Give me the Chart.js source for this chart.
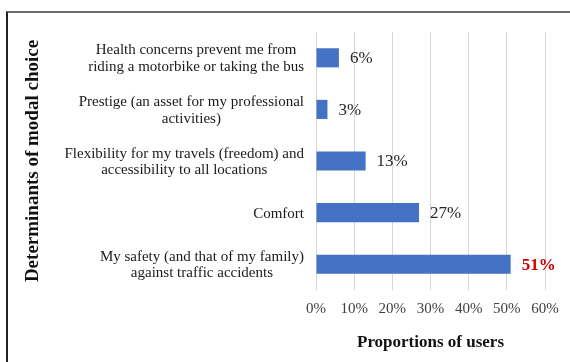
<!DOCTYPE html>
<html>
<head>
<meta charset="utf-8">
<script src="https://cdn.jsdelivr.net/npm/chart.js@4.4.0/dist/chart.umd.min.js"></script>
<style>
    html, body { margin: 0; padding: 0; background: #fff; overflow: hidden; }
    #wrap { position: relative; width: 570px; height: 362px; }
    #frame {
        position: absolute; left: 6px; top: 11px; width: 700px; height: 500px;
        border-top: 2px solid #6a6a6a; border-left: 2px solid #222;
    }
    #chart { position: absolute; left: 0; top: 0; }
</style>
</head>
<body>
<div id="wrap">
    <div id="frame"></div>
    <canvas id="chart" width="570" height="362"></canvas>
</div>
<script>
// Survey answers, top to bottom
const categories = [
    ['Health concerns prevent me from', 'riding a motorbike or taking the bus'],
    ['Prestige (an asset for my professional', 'activities)'],
    ['Flexibility for my travels (freedom) and', 'accessibility to all locations'],
    ['Comfort'],
    ['My safety (and that of my family)', 'against traffic accidents']
];
const shares = [6, 3, 13, 27, 51];
const xTicks = [0, 10, 20, 30, 40, 50, 60];

const serif = "'Liberation Serif', 'Times New Roman', serif";
const barBlue = '#4472C4';

// Category labels: each block right-aligned, lines centred inside it
const categoryLabels = {
    id: 'categoryLabels',
    afterDraw(chart) {
        const { ctx, chartArea } = chart;
        const yScale = chart.scales.y;
        const lineH = 16.5;
        ctx.save();
        ctx.font = '15px ' + serif;
        ctx.fillStyle = '#1a1a1a';
        ctx.textAlign = 'center';
        ctx.textBaseline = 'middle';
        categories.forEach((lines, i) => {
            const y = yScale.getPixelForTick(i);
            const widest = Math.max(...lines.map(l => ctx.measureText(l).width));
            const cx = chartArea.left - 12 - widest / 2;
            lines.forEach((line, j) => {
                ctx.fillText(line, cx, y + (j - (lines.length - 1) / 2) * lineH + 1);
            });
        });
        ctx.restore();
    }
};

// Value labels to the right of each bar, largest one in red
const valueLabels = {
    id: 'valueLabels',
    afterDatasetsDraw(chart) {
        const { ctx } = chart;
        const meta = chart.getDatasetMeta(0);
        const top = shares.indexOf(Math.max(...shares));
        ctx.save();
        ctx.textAlign = 'left';
        ctx.textBaseline = 'middle';
        meta.data.forEach((bar, i) => {
            if (i === top) {
                ctx.font = 'bold 17px ' + serif;
                ctx.fillStyle = '#d40000';
            } else {
                ctx.font = '17px ' + serif;
                ctx.fillStyle = '#262626';
            }
            ctx.fillText(shares[i] + '%', bar.x + 11, bar.y + 1);
        });
        ctx.restore();
    }
};

new Chart(document.getElementById('chart'), {
    type: 'bar',
    data: {
        labels: categories.map(c => c.join(' ')),
        datasets: [{
            data: shares,
            backgroundColor: barBlue,
            borderWidth: 0,
            categoryPercentage: 1,
            barPercentage: 0.37
        }]
    },
    options: {
        indexAxis: 'y',
        responsive: false,
        animation: false,
        layout: { padding: { left: 16, top: 32, right: 25, bottom: 0 } },
        plugins: {
            legend: { display: false },
            tooltip: { enabled: false }
        },
        scales: {
            x: {
                min: xTicks[0],
                max: xTicks[xTicks.length - 1],
                afterBuildTicks: scale => { scale.ticks = xTicks.map(v => ({ value: v })); },
                grid: { color: '#d6d6d6', drawTicks: false },
                border: { display: false },
                ticks: {
                    color: '#404040',
                    font: { family: serif, size: 15 },
                    padding: 10,
                    callback: v => v + '%'
                },
                title: {
                    display: true,
                    text: 'Proportions of users',
                    color: '#111',
                    font: { family: serif, size: 17, weight: 'bold' },
                    padding: { top: 4, bottom: 9 }
                },
                afterFit: scale => { scale.height = 72; }
            },
            y: {
                grid: { display: false },
                border: { display: false },
                ticks: { display: false },
                title: {
                    display: true,
                    text: 'Determinants of modal choice',
                    color: '#111',
                    font: { family: serif, size: 19, weight: 'bold' },
                    padding: { top: 6, bottom: 0 }
                },
                afterFit: scale => { scale.width = 300; }
            }
        }
    },
    plugins: [categoryLabels, valueLabels]
});
</script>
</body>
</html>
